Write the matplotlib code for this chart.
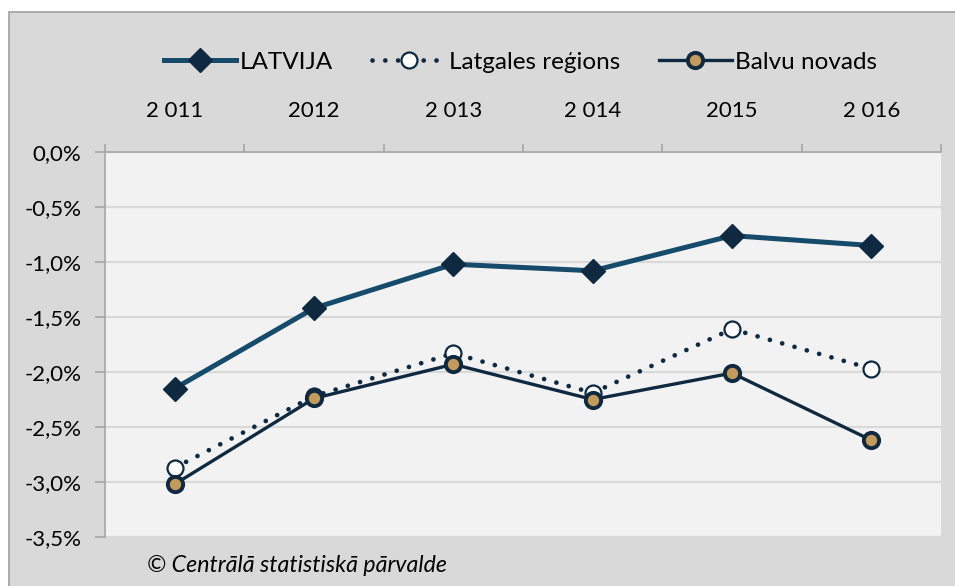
import matplotlib.pyplot as plt
from matplotlib.patches import Rectangle
from matplotlib.ticker import FuncFormatter

years = ["2 011", "2012", "2 013", "2 014", "2015", "2 016"]
latvija = [-2.15, -1.42, -1.02, -1.08, -0.76, -0.85]
latgale = [-2.87, -2.22, -1.83, -2.19, -1.61, -1.97]
balvu = [-3.02, -2.24, -1.93, -2.25, -2.01, -2.62]

plt.rcParams['font.family'] = ['Lato', 'DejaVu Sans']

fig = plt.figure(figsize=(9.55, 5.86), dpi=100, facecolor='white')
# gray chart area with thin border (starts a bit inside the image)
fig.patches.append(Rectangle((9/955, -0.01), 1.0, 1 - 12/586 + 0.01,
                             transform=fig.transFigure, facecolor='#d9d9d9',
                             edgecolor='#a0a0a0', linewidth=1.2, zorder=-5))

ax = fig.add_axes([105/955, 1 - 537/586, (941 - 105)/955, (537 - 152)/586])
ax.set_zorder(2)
ax.set_facecolor('#f2f2f2')
x = list(range(len(years)))

ax.plot(x, latvija, color='#174b6b', lw=3.6, marker='D', ms=12,
        mfc='#0f2a40', mec='#0f2a40', label='LATVIJA', zorder=3)
ax.plot(x, latgale, color='#0f2a40', lw=3.4, linestyle=(0, (0.01, 2.7)),
        dash_capstyle='round', marker='o', ms=11.5, mfc='white', mec='#0f2a40',
        mew=1.6, label='Latgales reģions', zorder=4)
ax.plot(x, balvu, color='#0f2a40', lw=2.4, marker='o', ms=11,
        mfc='#c49a5a', mec='#0f2a40', mew=2.8, label='Balvu novads', zorder=5)

ax.set_xlim(-0.5, 5.5)
ax.set_ylim(-3.5, 0)
ax.set_yticks([0, -0.5, -1, -1.5, -2, -2.5, -3, -3.5])
ax.yaxis.set_major_formatter(FuncFormatter(lambda v, p: ('%.1f%%' % v).replace('.', ',')))
ax.grid(axis='y', color='#d9d9d9', lw=1.6)
ax.set_axisbelow(True)

ax.xaxis.tick_top()
ax.set_xticks(x)
ax.set_xticklabels(years)
ax.set_xticks([i + 0.5 for i in range(-1, 6)], minor=True)
ax.tick_params(axis='x', which='major', length=0, pad=22, labelsize=16)
ax.tick_params(axis='x', which='minor', length=6, color='#a6a6a6', width=1.2, direction='out')
ax.tick_params(axis='y', length=7, color='#a6a6a6', width=1.2, labelsize=16, pad=10)

for s in ['bottom', 'right']:
    ax.spines[s].set_visible(False)
for s in ['top', 'left']:
    ax.spines[s].set_color('#a6a6a6')
    ax.spines[s].set_linewidth(1.2)

fig.legend(loc='center', bbox_to_anchor=(0.545, 1 - 62/586), ncol=3, frameon=False,
           fontsize=17.5, handlelength=3.0, columnspacing=1.6, handletextpad=0.15)

fig.text(147/955, 1 - 566/586, '© Centrālā statistiskā pārvalde', fontsize=16.7,
         style='italic', va='center', ha='left')

fig.savefig('out.png', dpi=100, facecolor='white')
